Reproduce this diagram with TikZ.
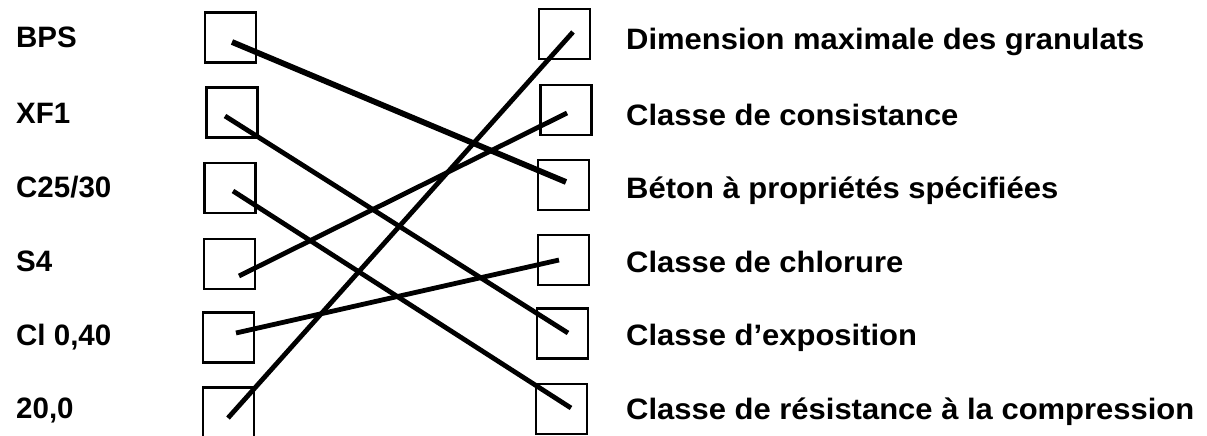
\documentclass[tikz,border=0pt]{standalone}
\usepackage{fontspec}
\newfontfamily\leftfont{Liberation Sans}
\newfontfamily\rightfont{Liberation Sans}[FakeStretch=1.05]
\begin{document}
\begin{tikzpicture}[x=1pt,y=-1pt,
  box/.style={draw, line width=2.2pt, minimum width=51pt, minimum height=50pt, inner sep=0pt},
  llab/.style={anchor=base west, inner sep=0pt, font=\leftfont\bfseries\fontsize{29.5}{31}\selectfont},
  rlab/.style={anchor=base west, inner sep=0pt, font=\rightfont\bfseries\fontsize{29.5}{31}\selectfont},
  link/.style={line width=4.8pt},
  thick link/.style={line width=5.8pt}]
\useasboundingbox (0,0) rectangle (1207,436);
\clip (0,0) rectangle (1207,436);
% left labels
\node[llab] (t1) at (16,48) {BPS};
\node[llab] (t2) at (16,123) {XF1};
\node[llab] (t3) at (16,197) {C25/30};
\node[llab] (t4) at (16,271) {S4};
\node[llab] (t5) at (16,345) {Cl 0,40};
\node[llab] (t6) at (16,418) {20,0};
% left boxes
\node[box] (L1) at (230.5,37.5) {};
\node[box] (L2) at (232,112.5) {};
\node[box] (L3) at (230,188) {};
\node[box] (L4) at (229.5,264) {};
\node[box] (L5) at (228.5,337.5) {};
\node[box] (L6) at (228.5,412.5) {};
% right boxes
\node[box] (R1) at (564.5,34) {};
\node[box] (R2) at (566,110) {};
\node[box] (R3) at (563.5,185) {};
\node[box] (R4) at (563.5,260) {};
\node[box] (R5) at (562.5,333.5) {};
\node[box] (R6) at (561.5,409) {};
% right labels
\node[rlab] (u1) at (626,49) {Dimension maximale des granulats};
\node[rlab] (u2) at (626,125) {Classe de consistance};
\node[rlab] (u3) at (626,198) {Béton à propriétés spécifiées};
\node[rlab] (u4) at (626,272) {Classe de chlorure};
\node[rlab] (u5) at (626,345) {Classe d’exposition};
\node[rlab] (u6) at (626,419) {Classe de résistance à la compression};
% line ends inside boxes
\coordinate (p1) at (232,42);
\coordinate (p2) at (225,116);
\coordinate (p3) at (233,191);
\coordinate (p4) at (239,276);
\coordinate (p5) at (236,333);
\coordinate (p6) at (228,418);
\coordinate (q1) at (573,32);
\coordinate (q2) at (567,113);
\coordinate (q3) at (566,182);
\coordinate (q4) at (559,260);
\coordinate (q5) at (568,333);
\coordinate (q6) at (571,408);
% connectors
\draw[thick link] (p1) -- (q3);
\draw[link] (p2) -- (q5);
\draw[link] (p3) -- (q6);
\draw[link] (p4) -- (q2);
\draw[link] (p5) -- (q4);
\draw[link] (p6) -- (q1);
\end{tikzpicture}
\end{document}
